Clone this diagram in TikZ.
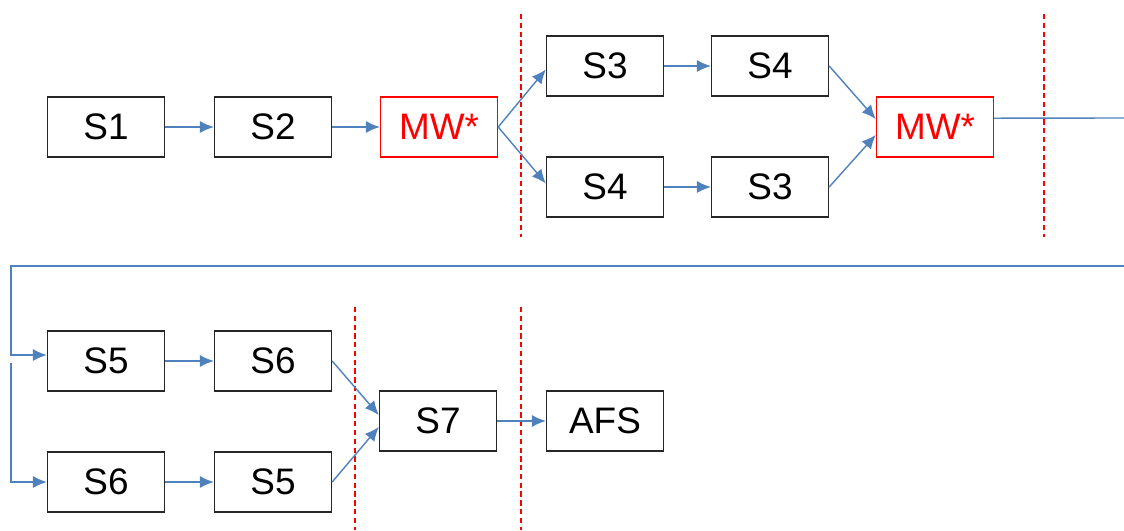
\documentclass[tikz,border=0pt]{standalone}
\usepackage{fontspec}
\setmainfont{Liberation Sans}
\usetikzlibrary{arrows.meta}
\definecolor{flowblue}{RGB}{79,129,189}
\definecolor{mwred}{RGB}{255,0,0}

\begin{document}
\begin{tikzpicture}[x=0.02cm, y=-0.02cm]
    \tikzstyle{every node}=[rectangle, draw=black!85, line width=0.8pt, minimum width=2.34cm, minimum height=1.2cm, inner sep=0pt, font=\fontsize{21}{24}\selectfont, text=black]
    \tikzstyle{mw}=[draw=mwred, text=mwred]
    \tikzstyle{flow}=[flowblue, line width=0.8pt, -{Latex[length=8pt, width=7pt]}]
    \tikzstyle{plain}=[flowblue, line width=0.8pt]
    \tikzstyle{cut}=[mwred, line width=0.6pt, dash pattern=on 3pt off 2pt]

    \useasboundingbox (0,0) rectangle (1124,530);

    % first row
    \node (s1) at (106,127) {S1};
    \node (s2) at (273,127) {S2};
    \node[mw] (mwa) at (439,127) {MW*};
    \node (s3a) at (605,66) {S3};
    \node (s4a) at (770,66) {S4};
    \node (s4b) at (605,187) {S4};
    \node (s3b) at (770,187) {S3};
    \node[mw] (mwb) at (935,127) {MW*};

    % second row
    \node (s5a) at (106,361) {S5};
    \node (s6a) at (273,361) {S6};
    \node (s6b) at (106,482) {S6};
    \node (s5b) at (273,482) {S5};
    \node (s7) at (438,421) {S7};
    \node (afs) at (605,421) {AFS};

    \coordinate (outR) at (1124,118);
    \coordinate (inR) at (1124,266);
    \coordinate (inL) at (11,266);
    \coordinate (inL2) at (11,363);

    \draw[cut] (521,14) -- (521,237);
    \draw[cut] (1044,14) -- (1044,237);
    \draw[cut] (355,307) -- (355,530);
    \draw[cut] (521,307) -- (521,530);

    \draw[flow] (s1) -- (s2);
    \draw[flow] (s2) -- (mwa);
    \draw[flow] (mwa.east) -- ([yshift=-2pt]s3a.west);
    \draw[flow] (mwa.east) -- ([yshift=2pt]s4b.west);
    \draw[flow] (s3a) -- (s4a);
    \draw[flow] (s4b) -- (s3b);
    \draw[flow] (s4a.east) -- ([yshift=4.5pt]mwb.west);
    \draw[flow] (s3b.east) -- ([yshift=-4.5pt]mwb.west);
    \draw[plain] ([yshift=5pt]mwb.east) -- (outR);

    \draw[flow] (inR) -- (inL) |- ([yshift=3.4pt]s5a.west);
    \draw[flow] (inL2) |- (s6b.west);
    \draw[flow] (s5a) -- (s6a);
    \draw[flow] (s6b) -- (s5b);
    \draw[flow] (s6a.east) -- ([yshift=3.4pt]s7.west);
    \draw[flow] (s5b.east) -- ([yshift=-3.4pt]s7.west);
    \draw[flow] (s7) -- (afs);
\end{tikzpicture}
\end{document}
